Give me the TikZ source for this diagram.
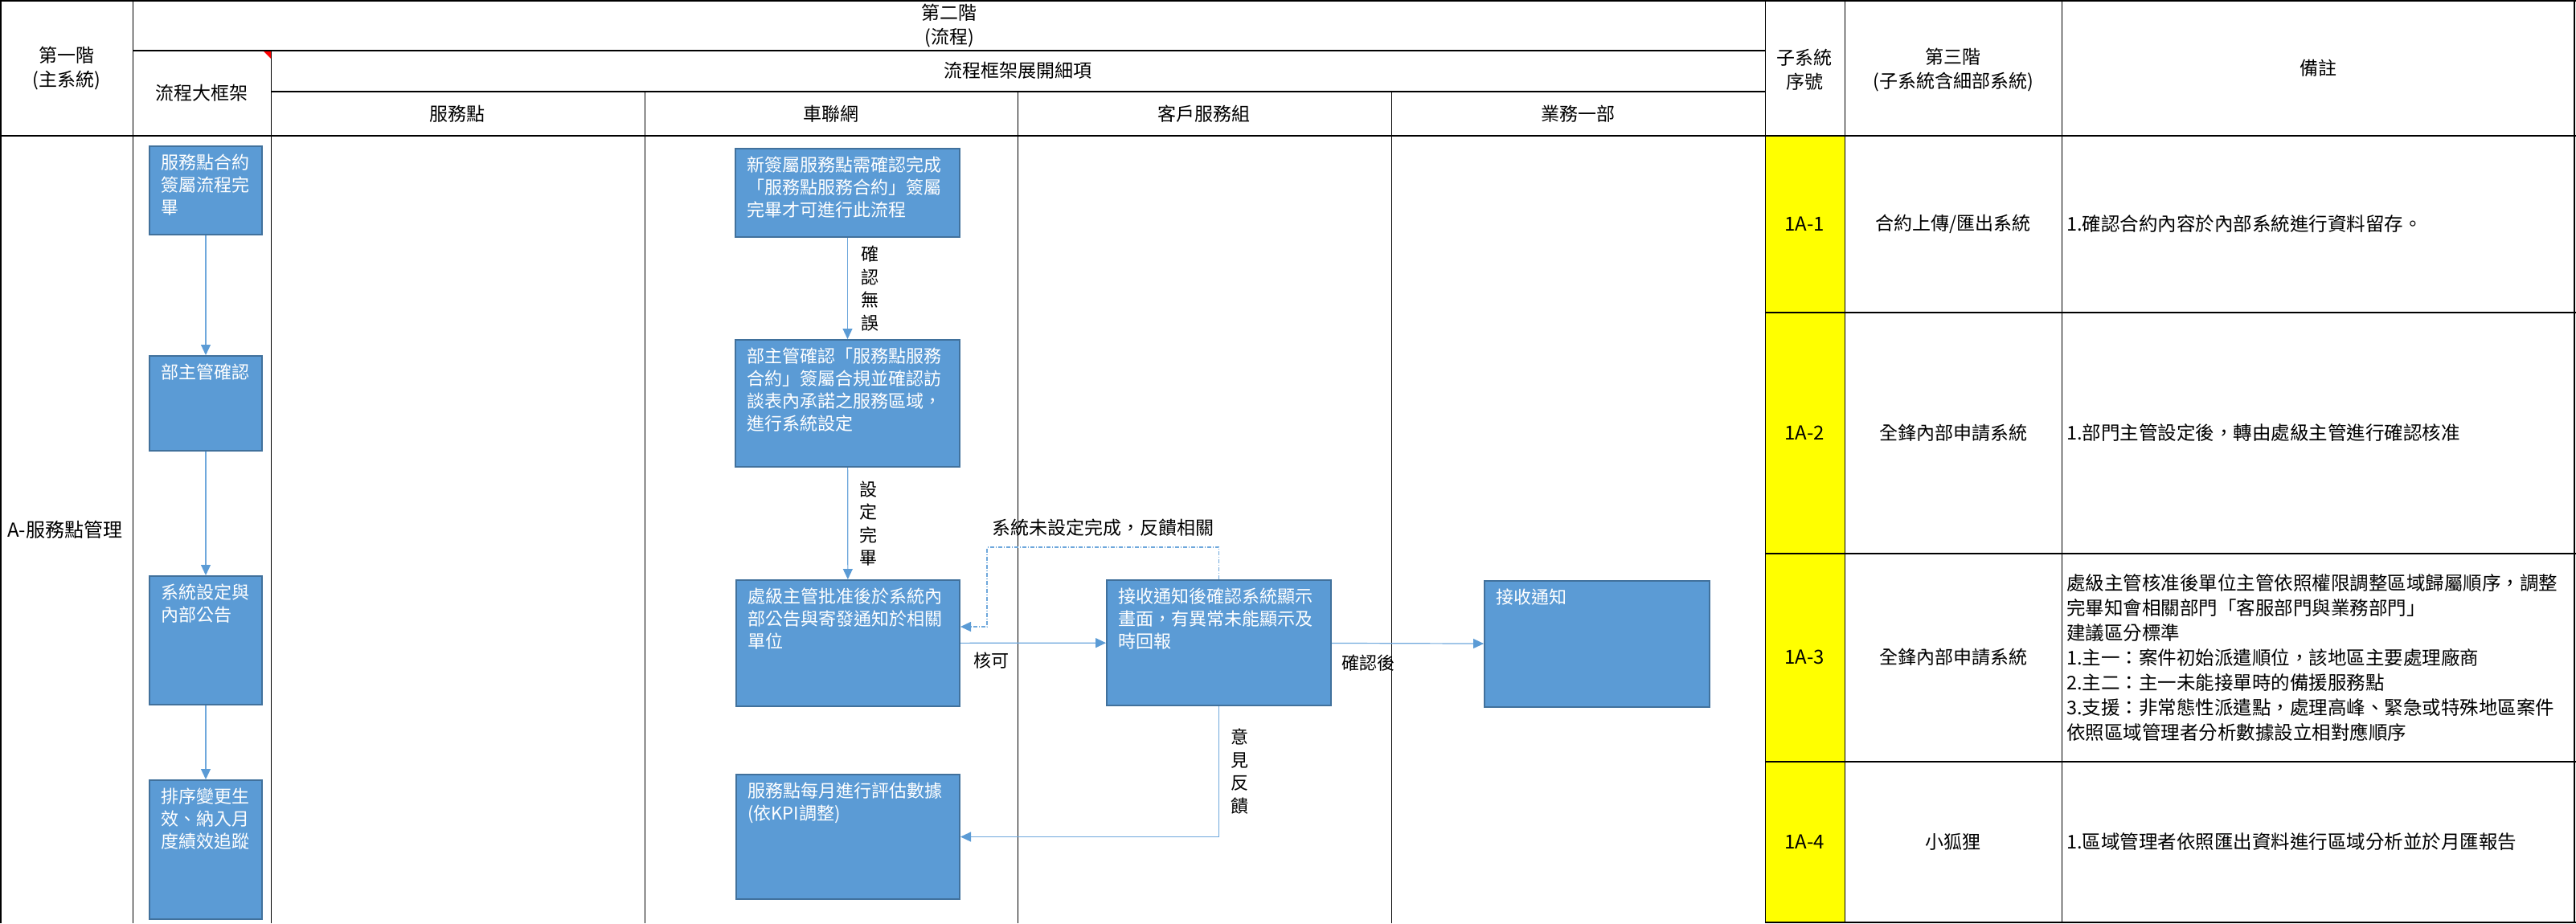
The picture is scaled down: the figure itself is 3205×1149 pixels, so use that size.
\documentclass[tikz,border=0pt]{standalone}
\usepackage{fontspec}
\setmainfont{Noto Sans CJK TC}
\usetikzlibrary{arrows.meta,calc}

\definecolor{boxfill}{HTML}{5B9BD5}
\definecolor{boxedge}{HTML}{41719C}
\definecolor{flowline}{HTML}{6FA8DC}
\definecolor{codeyellow}{HTML}{FFFF00}

\begin{document}
\begin{tikzpicture}[x=1pt, y=-1pt,
    gridline/.style={black, line width=1pt},
    headline/.style={black, line width=1.6pt},
    hdr/.style={align=center, inner sep=0pt, font=\fontsize{23}{30}\selectfont},
    note/.style={anchor=west, align=left, inner sep=0pt, font=\fontsize{23.5}{31}\selectfont},
    flowbox/.style={draw=boxedge, line width=2pt, fill=boxfill, anchor=north west, inner sep=0pt},
    boxtext/.style={anchor=north west, xshift=15pt, yshift=-11pt, inner sep=0pt, align=left,
        text=white, font=\fontsize{22}{28}\selectfont},
    vlabel/.style={align=center, inner sep=0pt, font=\fontsize{22}{28.5}\selectfont},
    flow/.style={draw=flowline, line width=1.2pt, -{Triangle[length=13pt, width=12pt, color=boxfill]}},
    feedback/.style={flow, dash pattern=on 5pt off 2pt on 1pt off 2pt}
]
\useasboundingbox (0,0) rectangle (3205,1149);

% Yellow code column
\fill[codeyellow] (2196,169) rectangle (2295,1148);

% Table grid
\draw[headline] (0,1) -- (3205,1);
\draw[headline] (165,63) -- (2196,63);
\draw[headline] (337,114) -- (2196,114);
\draw[headline] (0,169) -- (3205,169);
\foreach \y in {389,689,948,1148}
    \draw[headline] (2196,\y) -- (3205,\y);
\draw[headline] (1,0) -- (1,1149);
\draw[gridline] (165,0) -- (165,1149);
\draw[gridline] (337,63) -- (337,1149);
\foreach \x in {802,1266,1731}
    \draw[gridline] (\x,114) -- (\x,1149);
\draw[gridline] (2196,0) -- (2196,1149);
\draw[gridline] (2295,0) -- (2295,1149);
\draw[gridline] (2565,0) -- (2565,1149);
\draw[headline] (3203,0) -- (3203,1149);
\fill[red] (328,64) -- (337,64) -- (337,73) -- cycle;

% Header texts
\node[hdr] (tier1) at (83,85) {第一階\\(主系統)};
\node[hdr] (tier2) at (1181,32) {第二階\\(流程)};
\node[hdr] (frame) at (251,116) {流程大框架};
\node[hdr] (detail) at (1266,88) {流程框架展開細項};
\node[hdr] (laneSvc) at (569,142) {服務點};
\node[hdr] (laneNet) at (1034,142) {車聯網};
\node[hdr] (laneCs) at (1498,142) {客戶服務組};
\node[hdr] (laneBiz) at (1963,142) {業務一部};
\node[hdr] (subNo) at (2245,87) {子系統\\序號};
\node[hdr] (tier3) at (2430,87) {第三階\\(子系統含細部系統)};
\node[hdr] (remark) at (2884,85) {備註};

% Main system
\node[note, font=\fontsize{24}{30}\selectfont] (mainSys) at (9,659) {A-服務點管理};

% Frame column boxes
\node[flowbox, minimum width=140pt, minimum height=110pt] (fw1) at (185,181) {};
\node[boxtext] (fw1t) at (fw1.north west) {服務點合約\\簽屬流程完\\畢};
\node[flowbox, minimum width=140pt, minimum height=118pt] (fw2) at (185,442) {};
\node[boxtext] (fw2t) at (fw2.north west) {部主管確認};
\node[flowbox, minimum width=140pt, minimum height=160pt] (fw3) at (185,716) {};
\node[boxtext] (fw3t) at (fw3.north west) {系統設定與\\內部公告};
\node[flowbox, minimum width=140pt, minimum height=173pt] (fw4) at (185,970) {};
\node[boxtext] (fw4t) at (fw4.north west) {排序變更生\\效、納入月\\度績效追蹤};

% Lane boxes
\node[flowbox, minimum width=279pt, minimum height=110pt] (net1) at (914,184) {};
\node[boxtext] (net1t) at (net1.north west) {新簽屬服務點需確認完成\\「服務點服務合約」簽屬\\完畢才可進行此流程};
\node[flowbox, minimum width=279pt, minimum height=158pt] (net2) at (914,422) {};
\node[boxtext] (net2t) at (net2.north west) {部主管確認「服務點服務\\合約」簽屬合規並確認訪\\談表內承諾之服務區域，\\進行系統設定};
\node[flowbox, minimum width=278pt, minimum height=157pt] (net3) at (915,721) {};
\node[boxtext] (net3t) at (net3.north west) {處級主管批准後於系統內\\部公告與寄發通知於相關\\單位};
\node[flowbox, minimum width=278pt, minimum height=155pt] (net4) at (915,963) {};
\node[boxtext] (net4t) at (net4.north west) {服務點每月進行評估數據\\(依KPI調整)};
\node[flowbox, minimum width=279pt, minimum height=156pt] (cs1) at (1376,721) {};
\node[boxtext] (cs1t) at (cs1.north west) {接收通知後確認系統顯示\\畫面，有異常未能顯示及\\時回報};
\node[flowbox, minimum width=280pt, minimum height=157pt] (biz1) at (1846,722) {};
\node[boxtext] (biz1t) at (biz1.north west) {接收通知};

% Connectors
\draw[flow] (fw1) -- (fw2);
\draw[flow] (fw2) -- (fw3);
\draw[flow] (fw3) -- (fw4);
\draw[flow] (net1) -- (net2) node[vlabel, midway, anchor=west, xshift=16pt] (okLbl) {確\\認\\無\\誤};
\draw[flow] (net2) -- (net3) node[vlabel, midway, anchor=west, xshift=14pt] (setLbl) {設\\定\\完\\畢};
\draw[flow] (net3) -- (cs1) node[vlabel, pos=0.21, below=11pt] (passLbl) {核可};
\draw[flow] (cs1) -- (biz1) node[vlabel, pos=0.24, below=14pt] (afterLbl) {確認後};
\coordinate (fbA) at (1228,681);
\coordinate (fbB) at (1228,780);
\draw[feedback] (cs1.north) |- (fbA) node[vlabel, pos=0.75, above=13pt, font=\fontsize{23}{28}\selectfont] (fbLbl) {系統未設定完成，反饋相關}
    -- (fbB) -- (fbB -| net3.east);
\draw[flow] (cs1.south) |- (net4.east) node[vlabel, pos=0.25, anchor=west, xshift=14pt] (opLbl) {意\\見\\反\\饋};

% Subsystem rows
\node[hdr, font=\fontsize{24}{30}\selectfont] (code1) at (2245,279) {1A-1};
\node[hdr, font=\fontsize{24}{30}\selectfont] (code2) at (2245,539) {1A-2};
\node[hdr, font=\fontsize{24}{30}\selectfont] (code3) at (2245,818) {1A-3};
\node[hdr, font=\fontsize{24}{30}\selectfont] (code4) at (2245,1048) {1A-4};
\node[hdr] (sys1) at (2430,279) {合約上傳/匯出系統};
\node[hdr] (sys2) at (2430,539) {全鋒內部申請系統};
\node[hdr] (sys3) at (2430,818) {全鋒內部申請系統};
\node[hdr] (sys4) at (2430,1048) {小狐狸};
\node[note] (rem1) at (2571,279) {1.確認合約內容於內部系統進行資料留存。};
\node[note] (rem2) at (2571,539) {1.部門主管設定後，轉由處級主管進行確認核准};
\node[note] (rem3) at (2571,819) {處級主管核准後單位主管依照權限調整區域歸屬順序，調整\\完畢知會相關部門「客服部門與業務部門」\\建議區分標準\\1.主一：案件初始派遣順位，該地區主要處理廠商\\2.主二：主一未能接單時的備援服務點\\3.支援：非常態性派遣點，處理高峰、緊急或特殊地區案件\\依照區域管理者分析數據設立相對應順序};
\node[note] (rem4) at (2571,1048) {1.區域管理者依照匯出資料進行區域分析並於月匯報告};

\end{tikzpicture}
\end{document}
